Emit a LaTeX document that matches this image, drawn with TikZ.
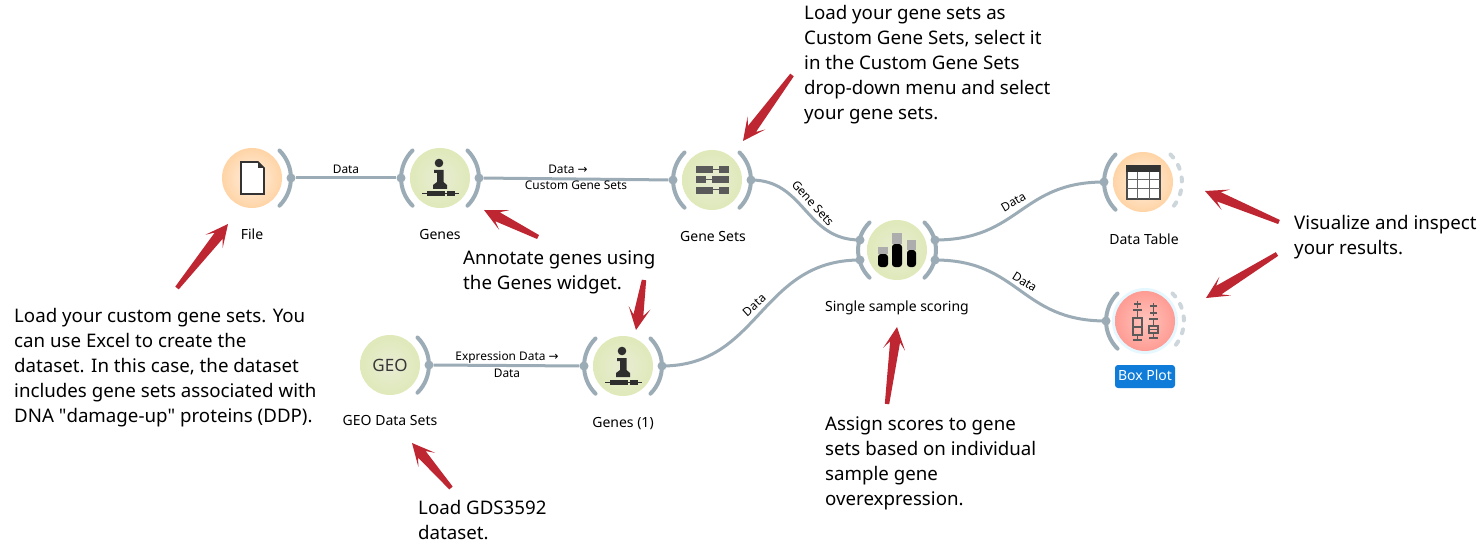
\documentclass[tikz,border=0pt]{standalone}
\usepackage{fontspec}
\setmainfont{Noto Sans}
\newfontfamily\plainq{Noto Sans}
\newfontfamily\djv{DejaVu Sans}
\usetikzlibrary{calc}
\definecolor{wire}{HTML}{9BACB6}
\definecolor{dashw}{HTML}{CDD6DB}
\definecolor{redarr}{HTML}{BE2631}
\definecolor{icon}{HTML}{5A5A5A}
\definecolor{orangeIn}{HTML}{FFEFE0}
\definecolor{orangeOut}{HTML}{FFD4A6}
\definecolor{greenIn}{HTML}{E8ECD4}
\definecolor{greenOut}{HTML}{DFE9B9}
\definecolor{redIn}{HTML}{FFC4BC}
\definecolor{redOut}{HTML}{FF9C94}
\tikzset{
  wnode/.style={circle,minimum size=60pt,inner sep=0pt},
  orangew/.style={wnode,inner color=orangeIn,outer color=orangeOut},
  greenw/.style={wnode,inner color=greenIn,outer color=greenOut},
  redw/.style={wnode,inner color=redIn,outer color=redOut},
  dotn/.style={circle,fill=wire,minimum size=9pt,inner sep=0pt},
  wirel/.style={draw=wire,line width=3pt},
  arcl/.style={draw=wire,line width=4pt,line cap=round},
  arcd/.style={draw=dashw,line width=4pt,line cap=round,dash pattern=on 4pt off 9pt},
  lbl/.style={font=\fontsize{14}{16}\selectfont,inner sep=0pt,text height=10pt,text depth=3pt},
  elbl/.style={font=\fontsize{11.9}{14}\selectfont,inner sep=0pt,text height=9pt,text depth=3pt},
  note/.style={font=\fontsize{18.7}{25}\selectfont,align=left,anchor=north west,inner sep=0pt},
}
\newcommand{\arcR}[1]{\draw[arcl] ($(#1)+(27.5,-27.5)$) arc[start angle=45,end angle=-45,radius=39pt];}
\newcommand{\arcL}[1]{\draw[arcl] ($(#1)+(-27.5,-27.5)$) arc[start angle=135,end angle=225,radius=39pt];}
\newcommand{\arcD}[1]{\draw[arcd] ($(#1)+(27.5,-27.5)$) arc[start angle=45,end angle=-45,radius=39pt];}
\newcommand{\infoicon}[1]{\begin{scope}[shift={(#1)}]
  \fill[black!82] (-1,-15) circle (4.3pt);
  \fill[black!82] (-6,-8) -- (3.5,-8) -- (3.5,4) -- (7,7) -- (7,11) -- (-7,11) -- (-7,7) -- (-3,4) -- (-3,-5) -- (-6,-5) -- cycle;
  \draw[black!82,line width=1pt] (-18,16) -- (19,16);
  \fill[black!82] (-13,13.5) rectangle (5,18.5);
  \fill[black!82] (7,13.5) rectangle (15,18.5);
\end{scope}}
\newcommand{\redarrow}[2]{\fill[redarr,line join=round]
  ($(#1)!2.2pt!-90:(#2)$) --
  ($(#2)!15pt!(#1)!5pt!-90:(#2)$) --
  ($(#2)!22.5pt!(#1)!11pt!-90:(#2)$) --
  (#2) --
  ($(#2)!22.5pt!(#1)!11pt!90:(#2)$) --
  ($(#2)!15pt!(#1)!5pt!90:(#2)$) --
  ($(#1)!2.2pt!90:(#2)$) -- cycle;}
\begin{document}
\begin{tikzpicture}[x=1pt,y=-1pt]
\useasboundingbox (0,0) rectangle (1483,548);
\fill[white] (0,0) rectangle (1483,548);
% widgets
\node[orangew] (file) at (252,178) {};
\node[greenw] (genes) at (440,178) {};
\node[greenw] (gsets) at (712,180) {};
\node[greenw] (single) at (897,250) {};
\node[orangew] (dtable) at (1143,182) {};
\fill[blue!30!cyan!25!white,opacity=.4] (1145,321) circle (33pt);
\node[redw] (box) at (1145,321) {};
\node[greenw] (geo) at (390,365) {};
\node[greenw] (genesb) at (623,366) {};
% channels
\arcR{file}\arcL{genes}\arcR{genes}\arcL{gsets}\arcR{gsets}\arcL{single}\arcR{single}\arcL{dtable}\arcD{dtable}\arcL{box}\arcD{box}\arcR{geo}\arcL{genesb}\arcR{genesb}
% anchors
\node[dotn] (fileOut) at ($(file)+(39,0)$) {};
\node[dotn] (genesIn) at ($(genes)+(-39,0)$) {};
\node[dotn] (genesOut) at ($(genes)+(39,0)$) {};
\node[dotn] (gsetsIn) at ($(gsets)+(-39,0)$) {};
\node[dotn] (gsetsOut) at ($(gsets)+(39,0)$) {};
\node[dotn] (singleInA) at (860,240) {};
\node[dotn] (singleInB) at (860,260) {};
\node[dotn] (singleOutA) at (935,240) {};
\node[dotn] (singleOutB) at (935,260) {};
\node[dotn] (dtableIn) at ($(dtable)+(-39,0)$) {};
\node[dotn] (boxIn) at ($(box)+(-39,0)$) {};
\node[dotn] (geoOut) at ($(geo)+(39,0)$) {};
\node[dotn] (genesbIn) at ($(genesb)+(-39,0)$) {};
\node[dotn] (genesbOut) at ($(genesb)+(39,0)$) {};
% connectors
\draw[wirel] (fileOut) -- (genesIn);
\draw[wirel] (genesOut) -- (gsetsIn);
\draw[wirel] (geoOut) -- (genesbIn);
\draw[wirel] (gsetsOut.center) .. controls (805,180) and (805,240) .. (singleInA.center);
\draw[wirel] (genesbOut.center) .. controls (760,366) and (760,260) .. (singleInB.center);
\draw[wirel] (singleOutA.center) .. controls (1020,240) and (1020,182) .. (dtableIn.center);
\draw[wirel] (singleOutB.center) .. controls (1020,260) and (1020,321) .. (boxIn.center);
% icons
\begin{scope}[shift={(file)}]
  \draw[black!80,fill=white,line width=1.6pt] (-11,-16) -- (6,-16) -- (12,-10) -- (12,16) -- (-11,16) -- cycle;
  \fill[black!80] (6,-16) -- (12,-10) -- (6,-10) -- cycle;
\end{scope}
\infoicon{genes}
\infoicon{genesb}
\begin{scope}[shift={(gsets)}]
  \foreach \y in {-10,0,10}{\draw[icon,line width=1pt] (-16,\y) -- (17,\y);}
  \fill[icon] (-16,-14) rectangle (1,-7);
  \fill[icon] (7,-14) rectangle (17,-7);
  \fill[icon] (-16,-3.5) rectangle (-6,3);
  \fill[icon] (0,-3.5) rectangle (17,3);
  \fill[icon] (-16,7) rectangle (1,14);
  \fill[icon] (7,7) rectangle (17,14);
\end{scope}
\begin{scope}[shift={(single)}]
  \fill[black!32] (-19,-3) rectangle (-9,4);
  \fill[black!32] (-5,-17) rectangle (5,-6);
  \fill[black!32] (10,-10) rectangle (19,0);
  \fill[black,rounded corners=3pt] (-19,4) rectangle (-9,17);
  \fill[black,rounded corners=3pt] (-5,-6) rectangle (5,17);
  \fill[black,rounded corners=3pt] (10,0) rectangle (19,17);
\end{scope}
\begin{scope}[shift={(dtable)}]
  \draw[black!70,fill=white,line width=1.2pt] (-16,-16) rectangle (17,17);
  \fill[black!80] (-17,-17) rectangle (17,-10);
  \draw[black!60,line width=1pt] (-6,-10) -- (-6,17) (6,-10) -- (6,17) (-16,-2) -- (17,-2) (-16,7) -- (17,7);
\end{scope}
\begin{scope}[shift={(box)}]
  \draw[icon,line width=1.2pt]
    (-12,-3) rectangle (-3,14)
    (-12,6) -- (-3,6) (-7.5,-3) -- (-7.5,-11) (-12,-11) -- (-3,-11)
    (-7.5,14) -- (-7.5,19) (-12,19) -- (-3,19)
    (-11,-17) -- (-4,-17) (-7.5,-20.5) -- (-7.5,-13.5)
    (4,5) rectangle (13,12) (4,8.5) -- (13,8.5)
    (8.5,5) -- (8.5,-2) (4,-2) -- (13,-2) (8.5,12) -- (8.5,17) (4,17) -- (13,17)
    (5,-15) -- (12,-15) (8.5,-18.5) -- (8.5,-11.5)
    (5,-8) -- (12,-8) (8.5,-11) -- (8.5,-5);
\end{scope}
\node[font=\fontsize{17}{18}\selectfont,text=black!78,inner sep=0pt] (geoTxt) at (390,365.5) {GEO};
% labels
\node[lbl] (fileL) at (252,236.5) {File};
\node[lbl] (genesL) at (440,236.5) {Genes};
\node[lbl] (gsetsL) at (713,237.5) {Gene Sets};
\node[lbl] (singleL) at (897,307.5) {Single sample scoring};
\node[lbl] (dtableL) at (1144,240.5) {Data Table};
\node[lbl,fill={rgb,255:red,15;green,124;blue,217},text=white,rounded corners=3pt,minimum width=60pt,minimum height=23pt] (boxL) at (1145,376.5) {Box Plot};
\node[lbl] (geoL) at (390,421.5) {GEO Data Sets};
\node[lbl] (genesbL) at (623,424) {Genes (1)};
% edge labels
\node[elbl] (e1) at (346,171) {Data};
\node[elbl] (e2a) at (568,171) {Data {\djv→}};
\node[elbl] (e2b) at (576,187) {Custom Gene Sets};
\node[elbl,rotate=-48] (e3) at (812,204) {Gene Sets};
\node[elbl,rotate=30] (e4) at (1014,203) {Data};
\node[elbl,rotate=-32] (e5) at (1024,283) {Data};
\node[elbl,rotate=42] (e6) at (755,306) {Data};
\node[elbl] (e7a) at (507,357.5) {Expression Data {\djv→}};
\node[elbl] (e7b) at (507,374) {Data};
% notes
\node[note] (n1) at (14,308) {Load your custom gene sets. You\\can use Excel to create the\\dataset. In this case, the dataset\\includes gene sets associated with\\DNA {\plainq"}damage-up{\plainq"} proteins (DDP).};
\node[note] (n2) at (463,251) {Annotate genes using\\the Genes widget.};
\node[note] (n3) at (804,5) {Load your gene sets as\\Custom Gene Sets, select it\\in the Custom Gene Sets\\drop-down menu and select\\your gene sets.};
\node[note] (n4) at (825,417) {Assign scores to gene\\sets based on individual\\sample gene\\overexpression.};
\node[note] (n5) at (418,500) {Load GDS3592\\dataset.};
\node[note] (n6) at (1294,215) {Visualize and inspect\\your results.};
% red arrows
\coordinate (a1s) at (177,288); \coordinate (a1e) at (228,224);
\coordinate (a2s) at (538,237); \coordinate (a2e) at (484,210);
\coordinate (a3s) at (792,75); \coordinate (a3e) at (743,141);
\coordinate (a4s) at (644,280); \coordinate (a4e) at (636,330);
\coordinate (a5s) at (451,488); \coordinate (a5e) at (412,443);
\coordinate (a6s) at (887,404); \coordinate (a6e) at (897,327);
\coordinate (a7s) at (1279,222); \coordinate (a7e) at (1205,191);
\coordinate (a8s) at (1277,254); \coordinate (a8e) at (1206,298);
\redarrow{a1s}{a1e}\redarrow{a2s}{a2e}\redarrow{a3s}{a3e}\redarrow{a4s}{a4e}
\redarrow{a5s}{a5e}\redarrow{a6s}{a6e}\redarrow{a7s}{a7e}\redarrow{a8s}{a8e}
\end{tikzpicture}
\end{document}
